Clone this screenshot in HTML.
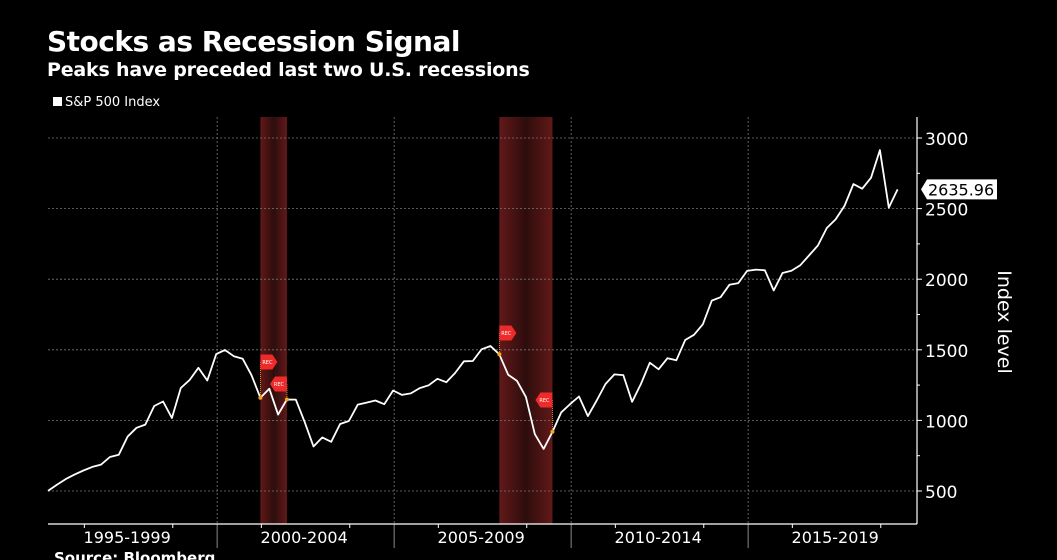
<!DOCTYPE html>
<html><head><meta charset="utf-8"><style>
html,body{margin:0;padding:0;background:#000;width:1057px;height:560px;overflow:hidden}
body{font-family:"DejaVu Sans","Liberation Sans",sans-serif;color:#fff;position:relative}
#title{position:absolute;left:47px;top:25px;font-size:28px;font-weight:bold;letter-spacing:-0.5px}
#subtitle{position:absolute;left:47px;top:59px;font-size:19px;font-weight:bold;letter-spacing:-0.2px}
#legend{position:absolute;left:53px;top:95px;font-size:13px}
#legend span.sw{display:inline-block;width:9px;height:9px;background:#fff;margin-right:3px}
svg{position:absolute;left:0;top:0}
</style></head><body>
<div id="title">Stocks as Recession Signal</div>
<div id="subtitle">Peaks have preceded last two U.S. recessions</div>
<div id="legend"><span class="sw"></span>S&amp;P 500 Index</div>
<svg id="chart" width="1057" height="560">
<defs>
<linearGradient id="rg" x1="0" x2="1" y1="0" y2="0">
<stop offset="0" stop-color="#621818"/><stop offset="0.5" stop-color="#2e0d0d"/><stop offset="1" stop-color="#621818"/>
</linearGradient>
</defs>
</svg>
<script>
const yTicks=[500,1000,1500,2000,2500,3000];
const periodLabels=["1995-1999","2000-2004","2005-2009","2010-2014","2015-2019"];
const recessions=[[24,27],[51,57]];
const values=[500.7,544.8,584.4,615.9,645.5,670.6,687.3,740.7,757.1,885.1,947.3,970.4,1101.8,1133.8,1017.0,1229.2,1286.4,1372.7,1282.7,1469.3,1498.6,1454.6,1436.5,1320.3,1160.3,1224.4,1040.9,1148.1,1147.4,989.8,815.3,879.8,848.2,974.5,996.0,1111.9,1126.2,1140.8,1114.6,1211.9,1180.6,1191.3,1228.8,1248.3,1294.8,1270.2,1335.9,1418.3,1420.9,1503.4,1526.8,1468.4,1322.7,1280.0,1166.4,903.3,797.9,919.3,1057.1,1115.1,1169.4,1030.7,1141.2,1257.6,1325.8,1320.6,1131.4,1257.6,1408.5,1362.2,1440.7,1426.2,1569.2,1606.3,1681.6,1848.4,1872.3,1960.2,1972.3,2058.9,2067.9,2063.1,1920.0,2043.9,2059.7,2098.9,2168.3,2238.8,2362.7,2423.4,2519.4,2673.6,2640.9,2718.4,2914.0,2506.9,2635.96];
const lastLabel="2635.96";
const NS="http://www.w3.org/2000/svg";
const svg=document.getElementById('chart');
const R=917,T=117,B=524;
const y=v=>491-(v-500)*353/2500;
const xi=i=>48+i*8.85;
function mk(tag,a,p){const e=document.createElementNS(NS,tag);for(const k in a)e.setAttribute(k,a[k]);(p||svg).appendChild(e);return e;}
recessions.forEach((r,k)=>{const e=mk('rect',{x:xi(r[0]),y:T,width:xi(r[1])-xi(r[0]),height:B-T,fill:'url(#rg)'});

});
yTicks.forEach(v=>{const g=mk('line',{x1:48,x2:R,y1:y(v),y2:y(v),stroke:'#777','stroke-dasharray':'2,2','stroke-width':0.8});


mk('line',{x1:R,x2:R+5,y1:y(v),y2:y(v),stroke:'#fff'});
const t=mk('text',{x:R+8,y:y(v)+7,fill:'#fff','font-size':17,'font-family':'DejaVu Sans, sans-serif'});t.textContent=v;

});
for(let v=750;v<3000;v+=500)mk('line',{x1:R,x2:R+3,y1:y(v),y2:y(v),stroke:'#fff'});
const xYear=t=>xi((t-1995)*4-1);
periodLabels.forEach((p,k)=>{const x0=xYear(1995+5*k)+1;
if(k>0){const g=mk('line',{x1:x0,x2:x0,y1:T,y2:B,stroke:'#777','stroke-dasharray':'2,2','stroke-width':0.8});


mk('line',{x1:x0,x2:x0,y1:B,y2:548,stroke:'#888'});}
for(let q=1;q<5;q+=2)mk('line',{x1:x0+q*44.2,x2:x0+q*44.2,y1:B,y2:B+4,stroke:'#fff'});
const t=mk('text',{x:x0+87,y:543,fill:'#fff','font-size':16,'text-anchor':'middle','font-family':'DejaVu Sans, sans-serif'});t.textContent=p;

});
mk('line',{x1:48,x2:R,y1:B,y2:B,stroke:'#fff','stroke-width':1.2});
mk('line',{x1:R,x2:R,y1:T,y2:B,stroke:'#fff','stroke-width':1.2});
const pts=values.map((v,i)=>xi(i).toFixed(1)+','+y(v).toFixed(1)).join(' ');
const line=mk('polyline',{points:pts,fill:'none',stroke:'#fff','stroke-width':1.8,'stroke-linejoin':'round'});


// REC flags: [index, direction, flag center y]
[[24,'r',362],[27,'l',384],[51,'r',333],[57,'l',400]].forEach(f=>{const cx=xi(f[0]),py=y(values[f[0]]),cy=f[2];
mk('line',{x1:cx,x2:cx,y1:cy,y2:py,stroke:'#f5a623','stroke-width':0.8,'stroke-dasharray':'1,1'});
mk('circle',{cx:cx,cy:py,r:2,fill:'#f5a623'});
const w=12,h=15;let d=f[1]=='r'?`M${cx},${cy-h/2}h${w}l5,${h/2}l-5,${h/2}h-${w}z`:`M${cx},${cy-h/2}h-${w}l-5,${h/2}l5,${h/2}h${w}z`;
const p=mk('path',{d:d,fill:'#ee2a2a'});


const t=mk('text',{x:f[1]=='r'?cx+7:cx-8,y:cy+2,fill:'#fff','font-size':5,'text-anchor':'middle'});t.textContent='REC';});
const ly=y(2635.96);
const lb=mk('path',{d:`M${R+4},${ly}l6,-10h70v20h-70z`,fill:'#fff'});


const lt=mk('text',{x:R+11,y:ly+6,fill:'#000','font-size':16,'font-family':'DejaVu Sans, sans-serif'});lt.textContent=lastLabel;
const at=mk('text',{x:0,y:0,fill:'#fff','font-size':19,transform:'translate(998,322) rotate(90)','text-anchor':'middle','font-family':'DejaVu Sans, sans-serif'});at.textContent='Index level';


const src=mk('text',{x:54,y:563,fill:'#fff','font-size':15,'font-weight':'bold'});src.textContent='Source: Bloomberg';


</script>
</body></html>
